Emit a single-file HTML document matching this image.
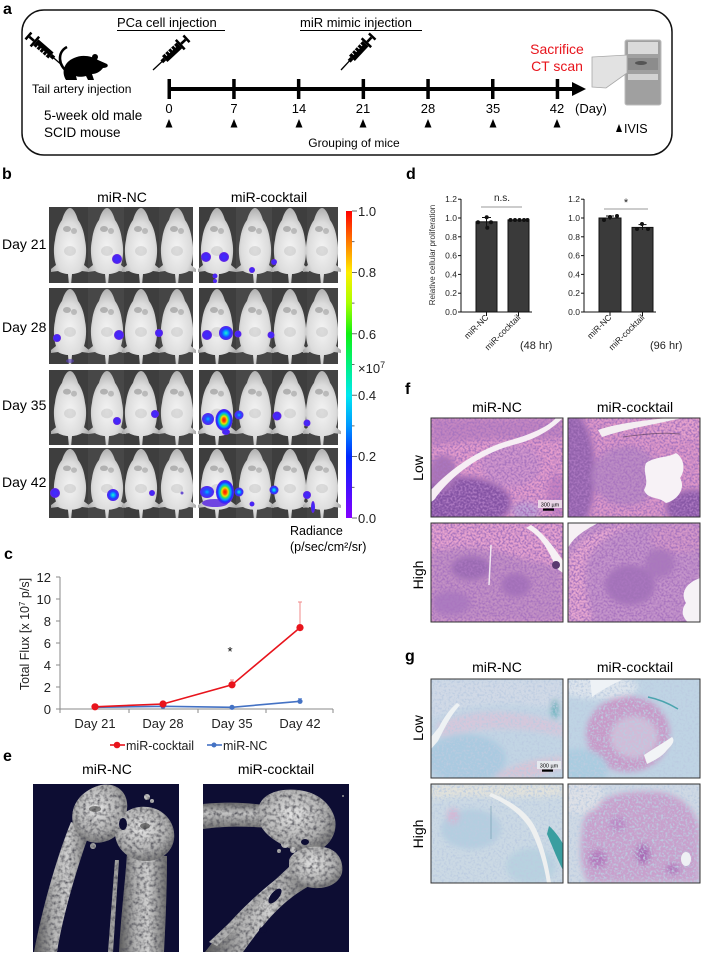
<!DOCTYPE html>
<html><head><meta charset="utf-8">
<style>
html,body{margin:0;padding:0;background:#fff;}
svg{display:block;font-family:"Liberation Sans",Arial,sans-serif;}
</style></head>
<body>
<svg width="703" height="955" viewBox="0 0 703 955" xmlns="http://www.w3.org/2000/svg">
<defs>
  <radialGradient id="mg" cx="50%" cy="55%" r="60%"><stop offset="0" stop-color="#f4f4f4"/><stop offset="0.6" stop-color="#dcdcdc"/><stop offset="1" stop-color="#a4a4a4"/></radialGradient>
  <radialGradient id="gP"><stop offset="0" stop-color="#3a30ff"/><stop offset="0.7" stop-color="#4a22f2"/><stop offset="1" stop-color="#6a2ae0"/></radialGradient>
  <radialGradient id="gB"><stop offset="0" stop-color="#00b8ff"/><stop offset="0.4" stop-color="#2050ff"/><stop offset="1" stop-color="#5a22ee"/></radialGradient>
  <radialGradient id="gC"><stop offset="0" stop-color="#30f0c0"/><stop offset="0.3" stop-color="#00a8ff"/><stop offset="0.6" stop-color="#2040ff"/><stop offset="1" stop-color="#5a22ee"/></radialGradient>
  <radialGradient id="gR"><stop offset="0" stop-color="#ff1000"/><stop offset="0.2" stop-color="#ff5a00"/><stop offset="0.35" stop-color="#f0e000"/><stop offset="0.5" stop-color="#30e060"/><stop offset="0.65" stop-color="#00a0ff"/><stop offset="0.82" stop-color="#2030ff"/><stop offset="1" stop-color="#5a22ee"/></radialGradient>
  <linearGradient id="cbar" x1="0" y1="0" x2="0" y2="1">
    <stop offset="0" stop-color="#ff0000"/><stop offset="0.1" stop-color="#ff7a00"/><stop offset="0.2" stop-color="#ffee00"/><stop offset="0.3" stop-color="#a8ff00"/><stop offset="0.4" stop-color="#10f010"/><stop offset="0.5" stop-color="#00f080"/><stop offset="0.6" stop-color="#00e8f0"/><stop offset="0.7" stop-color="#0098ff"/><stop offset="0.8" stop-color="#0028ff"/><stop offset="0.9" stop-color="#4410ff"/><stop offset="1" stop-color="#8400ff"/>
  </linearGradient>
  <linearGradient id="boneG" x1="0" y1="0" x2="1" y2="0"><stop offset="0" stop-color="#5a5a5a"/><stop offset="0.35" stop-color="#b4b4b4"/><stop offset="0.6" stop-color="#cfcfcf"/><stop offset="1" stop-color="#6a6a6a"/></linearGradient>
  <linearGradient id="boneG2" x1="0" y1="0" x2="0" y2="1"><stop offset="0" stop-color="#6a6a6a"/><stop offset="0.4" stop-color="#c4c4c4"/><stop offset="1" stop-color="#707070"/></linearGradient>
  <radialGradient id="headG" cx="45%" cy="40%" r="60%"><stop offset="0" stop-color="#e4e4e4"/><stop offset="0.7" stop-color="#b0b0b0"/><stop offset="1" stop-color="#7a7a7a"/></radialGradient>
  <filter id="bt" x="0" y="0" width="100%" height="100%">
    <feTurbulence type="fractalNoise" baseFrequency="0.28" numOctaves="2" seed="5" result="n"/>
    <feColorMatrix in="n" type="matrix" values="0 0 0 0 0.1  0 0 0 0 0.1  0 0 0 0 0.12  2.4 0 0 0 -0.95" result="d"/>
    <feComposite in="d" in2="SourceGraphic" operator="in" result="dd"/>
    <feMerge><feMergeNode in="SourceGraphic"/><feMergeNode in="dd"/></feMerge>
  </filter>
  <filter id="bl4" x="-30%" y="-30%" width="160%" height="160%"><feGaussianBlur stdDeviation="3"/></filter>
  <filter id="bl2" x="-30%" y="-30%" width="160%" height="160%"><feGaussianBlur stdDeviation="1.5"/></filter>
  <filter id="spF" x="0" y="0" width="100%" height="100%">
    <feTurbulence type="fractalNoise" baseFrequency="0.5" numOctaves="2" seed="7"/>
    <feColorMatrix type="matrix" values="0 0 0 0 0.4  0 0 0 0 0.18  0 0 0 0 0.52  4.2 0 0 0 -1.75"/>
  </filter>
  <filter id="spG" x="0" y="0" width="100%" height="100%">
    <feTurbulence type="fractalNoise" baseFrequency="0.45" numOctaves="2" seed="3"/>
    <feColorMatrix type="matrix" values="0 0 0 0 0.5  0 0 0 0 0.6  0 0 0 0 0.75  3 0 0 0 -1.35"/>
  </filter>
  <g id="mouse">
    <path d="M0,1 C3,1 6,6 8,13 C11,17 14,24 15,33 C17,42 16,52 14,58 L19,62 L19,65 L12,64 C9,66 4,67 2,67 L1.2,76 L-1.2,76 L-2,67 C-4,67 -9,66 -12,64 L-19,65 L-19,62 L-14,58 C-16,52 -17,42 -15,33 C-14,24 -11,17 -8,13 C-6,6 -3,1 0,1 Z" fill="url(#mg)"/>
    <ellipse cx="-3" cy="22" rx="4" ry="3" fill="#8a8a8a" opacity="0.55"/>
    <ellipse cx="4" cy="24" rx="3" ry="3" fill="#8a8a8a" opacity="0.45"/>
    <ellipse cx="0" cy="44" rx="6" ry="5" fill="#b0b0b0" opacity="0.35"/>
  </g>
  <g id="syr">
    <line x1="0" y1="0" x2="13" y2="0" stroke="#000" stroke-width="1.3"/>
    <rect x="12" y="-2" width="4" height="4" fill="#000"/>
    <rect x="16" y="-4" width="20" height="8" fill="#000"/>
    <path d="M20,-4 v3 M24,-4 v3 M28,-4 v3 M32,-4 v3" stroke="#fff" stroke-width="1"/>
    <rect x="36" y="-6.5" width="2.5" height="13" fill="#000"/>
    <rect x="38.5" y="-1.3" width="6" height="2.6" fill="#000"/>
    <rect x="44.5" y="-4.5" width="2.5" height="9" fill="#000"/>
  </g>
  <clipPath id="cpH"><rect x="0" y="0" width="132" height="99"/></clipPath>
  <clipPath id="cpL"><rect x="0" y="0" width="146" height="168"/></clipPath>
</defs>

<!-- ============ PANEL A ============ -->
<text x="3" y="14" font-size="16" font-weight="bold">a</text>
<rect x="22" y="10" width="650" height="145" rx="22" ry="22" fill="none" stroke="#111" stroke-width="1.5"/>
<text x="117" y="27" font-size="13">PCa cell injection</text>
<line x1="117" y1="30.5" x2="225" y2="30.5" stroke="#000" stroke-width="1"/>
<text x="300" y="27" font-size="13">miR mimic injection</text>
<line x1="300" y1="30.5" x2="422" y2="30.5" stroke="#000" stroke-width="1"/>
<use href="#syr" transform="translate(63,66) rotate(-139)"/>
<use href="#syr" transform="translate(153,70) rotate(-43)"/>
<use href="#syr" transform="translate(341,70) rotate(-47)"/>
<path d="M68,72 C58,66 57,52 67,47" stroke="#000" stroke-width="2.6" fill="none"/>
<path d="M66,80 C61,72 64,62 74,58 C82,54 92,56 98,60 L107,64 C109,66 107,68 103,68 C100,72 96,74 92,74 L94,80 L88,80 L86,76 C82,77 78,77 76,76 L77,80 Z" fill="#000"/>
<circle cx="95" cy="57" r="3" fill="#000"/>
<text x="32" y="93" font-size="12">Tail artery injection</text>
<text x="44" y="120" font-size="13.5">5-week old male</text>
<text x="44" y="137" font-size="13.5">SCID mouse</text>
<rect x="169" y="87" width="405" height="4" fill="#000"/>
<polygon points="572,82 586,89 572,96" fill="#000"/>
<g fill="#000">
  <rect x="167.5" y="79" width="3.5" height="20"/>
  <rect x="232.2" y="79" width="3.5" height="20"/>
  <rect x="296.9" y="79" width="3.5" height="20"/>
  <rect x="361.6" y="79" width="3.5" height="20"/>
  <rect x="426.3" y="79" width="3.5" height="20"/>
  <rect x="491" y="79" width="3.5" height="20"/>
  <rect x="555.7" y="79" width="3.5" height="20"/>
</g>
<g font-size="13" text-anchor="middle">
  <text x="169" y="113">0</text><text x="234" y="113">7</text><text x="299" y="113">14</text><text x="363" y="113">21</text><text x="428" y="113">28</text><text x="493" y="113">35</text><text x="557" y="113">42</text>
</g>
<g fill="#000">
  <polygon points="165.5,127.5 172.5,127.5 169,119"/>
  <polygon points="230.5,127.5 237.5,127.5 234,119"/>
  <polygon points="295.5,127.5 302.5,127.5 299,119"/>
  <polygon points="359.5,127.5 366.5,127.5 363,119"/>
  <polygon points="424.5,127.5 431.5,127.5 428,119"/>
  <polygon points="489.5,127.5 496.5,127.5 493,119"/>
  <polygon points="553.5,127.5 560.5,127.5 557,119"/>
</g>
<text x="575" y="113" font-size="13">(Day)</text>
<text x="354" y="147" font-size="12" text-anchor="middle">Grouping of mice</text>
<text x="557" y="54" font-size="14" fill="#e8141c" text-anchor="middle">Sacrifice</text>
<text x="557" y="71" font-size="14" fill="#e8141c" text-anchor="middle">CT scan</text>
<rect x="625" y="40" width="36" height="65" rx="2" fill="#a0a0a0" stroke="#bdbdbd"/>
<rect x="628" y="42" width="30" height="12" fill="#dadada"/>
<rect x="628" y="74" width="30" height="6" fill="#d2d2d2"/>
<rect x="628" y="58" width="30" height="12" fill="#8c8c8c"/>
<polygon points="592,57 627,55 627,73 606,88 592,87" fill="#e2e2e2" stroke="#a8a8a8" stroke-width="0.8"/>
<ellipse cx="641" cy="63" rx="6" ry="2" fill="#555"/>
<polygon points="616,132 622,132 619,124" fill="#000"/>
<text x="624" y="133" font-size="12.5">IVIS</text>

<!-- ============ PANEL B ============ -->
<text x="2" y="179" font-size="16" font-weight="bold">b</text>
<text x="122" y="202" font-size="14" text-anchor="middle">miR-NC</text>
<text x="269" y="202" font-size="14" text-anchor="middle">miR-cocktail</text>
<g font-size="14">
  <text x="2" y="249">Day 21</text>
  <text x="2" y="332">Day 28</text>
  <text x="2" y="410">Day 35</text>
  <text x="2" y="487">Day 42</text>
</g>
<g>
  <rect x="49" y="207" width="144" height="76" fill="#3e3e3e"/>
  <rect x="88" y="207" width="36" height="76" fill="#474747"/><rect x="159" y="207" width="34" height="76" fill="#454545"/>
  <rect x="199" y="207" width="139" height="76" fill="#3e3e3e"/>
  <rect x="236" y="207" width="36" height="76" fill="#484848"/><rect x="307" y="207" width="31" height="76" fill="#444"/>
  <rect x="49" y="288" width="144" height="76" fill="#3e3e3e"/>
  <rect x="88" y="288" width="36" height="76" fill="#474747"/><rect x="159" y="288" width="34" height="76" fill="#454545"/>
  <rect x="199" y="288" width="139" height="76" fill="#3e3e3e"/>
  <rect x="236" y="288" width="36" height="76" fill="#484848"/><rect x="307" y="288" width="31" height="76" fill="#444"/>
  <rect x="49" y="370" width="144" height="75" fill="#3e3e3e"/>
  <rect x="88" y="370" width="36" height="75" fill="#474747"/><rect x="159" y="370" width="34" height="75" fill="#454545"/>
  <rect x="199" y="370" width="139" height="75" fill="#3e3e3e"/>
  <rect x="236" y="370" width="36" height="75" fill="#484848"/><rect x="307" y="370" width="31" height="75" fill="#444"/>
  <rect x="49" y="448" width="144" height="70" fill="#3e3e3e"/>
  <rect x="88" y="448" width="36" height="70" fill="#474747"/><rect x="159" y="448" width="34" height="70" fill="#454545"/>
  <rect x="199" y="448" width="139" height="70" fill="#3e3e3e"/>
  <rect x="236" y="448" width="36" height="70" fill="#484848"/><rect x="307" y="448" width="31" height="70" fill="#444"/>
</g>
<g>
  <use href="#mouse" transform="translate(70,207)"/><use href="#mouse" transform="translate(107,207)"/><use href="#mouse" transform="translate(141,207)"/><use href="#mouse" transform="translate(177,207)"/>
  <use href="#mouse" transform="translate(217,207)"/><use href="#mouse" transform="translate(255,207)"/><use href="#mouse" transform="translate(290,207)"/><use href="#mouse" transform="translate(322,207)"/>
  <use href="#mouse" transform="translate(70,288)"/><use href="#mouse" transform="translate(107,288)"/><use href="#mouse" transform="translate(141,288)"/><use href="#mouse" transform="translate(177,288)"/>
  <use href="#mouse" transform="translate(217,288)"/><use href="#mouse" transform="translate(255,288)"/><use href="#mouse" transform="translate(290,288)"/><use href="#mouse" transform="translate(322,288)"/>
  <use href="#mouse" transform="translate(70,370) scale(1,0.987)"/><use href="#mouse" transform="translate(107,370) scale(1,0.987)"/><use href="#mouse" transform="translate(141,370) scale(1,0.987)"/><use href="#mouse" transform="translate(177,370) scale(1,0.987)"/>
  <use href="#mouse" transform="translate(217,370) scale(1,0.987)"/><use href="#mouse" transform="translate(255,370) scale(1,0.987)"/><use href="#mouse" transform="translate(290,370) scale(1,0.987)"/><use href="#mouse" transform="translate(322,370) scale(1,0.987)"/>
  <use href="#mouse" transform="translate(70,448) scale(1,0.921)"/><use href="#mouse" transform="translate(107,448) scale(1,0.921)"/><use href="#mouse" transform="translate(141,448) scale(1,0.921)"/><use href="#mouse" transform="translate(177,448) scale(1,0.921)"/>
  <use href="#mouse" transform="translate(217,448) scale(1,0.921)"/><use href="#mouse" transform="translate(255,448) scale(1,0.921)"/><use href="#mouse" transform="translate(290,448) scale(1,0.921)"/><use href="#mouse" transform="translate(322,448) scale(1,0.921)"/>
</g>
<g>
  <circle cx="117" cy="259" r="5" fill="url(#gP)"/>
  <circle cx="206" cy="257" r="5" fill="url(#gP)"/><circle cx="224" cy="257" r="5" fill="url(#gP)"/>
  <circle cx="215" cy="276" r="2.5" fill="url(#gP)"/><circle cx="215" cy="281" r="2" fill="url(#gP)"/>
  <circle cx="252" cy="270" r="3" fill="url(#gP)"/><circle cx="274" cy="262" r="3" fill="url(#gP)"/>
  <circle cx="57" cy="338" r="4" fill="url(#gP)"/><circle cx="119" cy="335" r="5" fill="url(#gP)"/><circle cx="159" cy="333" r="4" fill="url(#gP)"/>
  <ellipse cx="70" cy="361" rx="4" ry="2" fill="#5a40c0" opacity="0.6"/>
  <circle cx="207" cy="335" r="5" fill="url(#gP)"/><circle cx="226" cy="333" r="7" fill="url(#gC)"/>
  <circle cx="238" cy="334" r="3.5" fill="url(#gP)"/><circle cx="271" cy="335" r="3.5" fill="url(#gP)"/>
  <circle cx="117" cy="421" r="4" fill="url(#gP)"/><circle cx="155" cy="414" r="4" fill="url(#gP)"/>
  <circle cx="208" cy="419" r="6" fill="url(#gB)"/>
  <ellipse cx="224" cy="420" rx="8.5" ry="11" fill="url(#gR)"/>
  <ellipse cx="226" cy="432" rx="4" ry="3" fill="url(#gP)"/>
  <circle cx="239" cy="415" r="4.5" fill="url(#gB)"/><circle cx="277" cy="416" r="4.5" fill="url(#gP)"/><circle cx="307" cy="423" r="3.5" fill="url(#gP)"/>
  <circle cx="55" cy="493" r="5" fill="url(#gP)"/><circle cx="113" cy="495" r="6" fill="url(#gC)"/>
  <circle cx="152" cy="493" r="3" fill="url(#gP)"/><circle cx="182" cy="493" r="1.5" fill="#6a50d0"/>
  <ellipse cx="215" cy="503" rx="13" ry="4" fill="#5a28e0" opacity="0.85"/>
  <ellipse cx="207" cy="492" rx="7" ry="6" fill="url(#gB)"/>
  <ellipse cx="225" cy="492" rx="9" ry="12" fill="url(#gR)"/>
  <circle cx="239" cy="492" r="4.5" fill="url(#gC)"/><circle cx="274" cy="490" r="4.5" fill="url(#gC)"/>
  <circle cx="252" cy="504" r="2.5" fill="url(#gP)"/>
  <circle cx="307" cy="495" r="4" fill="url(#gP)"/><ellipse cx="313" cy="507" rx="2" ry="6" fill="url(#gP)"/>
</g>
<rect x="346" y="211" width="6" height="307" fill="url(#cbar)"/>
<g stroke="#444" stroke-width="0.8">
  <line x1="352" y1="211" x2="357" y2="211"/><line x1="352" y1="272.4" x2="357" y2="272.4"/><line x1="352" y1="333.8" x2="357" y2="333.8"/><line x1="352" y1="395.2" x2="357" y2="395.2"/><line x1="352" y1="456.6" x2="357" y2="456.6"/><line x1="352" y1="518" x2="357" y2="518"/>
  <line x1="352" y1="241.7" x2="354.5" y2="241.7"/><line x1="352" y1="303.1" x2="354.5" y2="303.1"/><line x1="352" y1="364.5" x2="354.5" y2="364.5"/><line x1="352" y1="425.9" x2="354.5" y2="425.9"/><line x1="352" y1="487.3" x2="354.5" y2="487.3"/>
</g>
<g font-size="13" fill="#222">
  <text x="358" y="216">1.0</text><text x="358" y="277">0.8</text><text x="358" y="339">0.6</text><text x="358" y="400">0.4</text><text x="358" y="461">0.2</text><text x="358" y="523">0.0</text>
  <text x="358" y="373">×10<tspan font-size="9" dy="-5">7</tspan></text>
</g>
<text x="290" y="535" font-size="12.5">Radiance</text>
<text x="290" y="551" font-size="12.5">(p/sec/cm²/sr)</text>

<!-- ============ PANEL C ============ -->
<text x="4" y="559" font-size="16" font-weight="bold">c</text>
<text transform="translate(29,634) rotate(-90)" font-size="12.5" text-anchor="middle" fill="#222">Total Flux [x 10<tspan font-size="8" dy="-4">7</tspan><tspan dy="4"> p/s]</tspan></text>
<g stroke="#8a8a8a" stroke-width="1">
  <line x1="60" y1="577" x2="60" y2="709"/>
  <line x1="60" y1="709" x2="333" y2="709"/>
  <line x1="56" y1="577" x2="60" y2="577"/><line x1="56" y1="599" x2="60" y2="599"/><line x1="56" y1="621" x2="60" y2="621"/><line x1="56" y1="643" x2="60" y2="643"/><line x1="56" y1="665" x2="60" y2="665"/><line x1="56" y1="687" x2="60" y2="687"/><line x1="56" y1="709" x2="60" y2="709"/>
  <line x1="60" y1="709" x2="60" y2="713"/><line x1="129" y1="709" x2="129" y2="713"/><line x1="198" y1="709" x2="198" y2="713"/><line x1="266" y1="709" x2="266" y2="713"/><line x1="333" y1="709" x2="333" y2="713"/>
</g>
<g font-size="13" text-anchor="end" fill="#222">
  <text x="51" y="582">12</text><text x="51" y="604">10</text><text x="51" y="626">8</text><text x="51" y="648">6</text><text x="51" y="670">4</text><text x="51" y="692">2</text><text x="51" y="714">0</text>
</g>
<g font-size="13" text-anchor="middle" fill="#222">
  <text x="95" y="728">Day 21</text><text x="163" y="728">Day 28</text><text x="232" y="728">Day 35</text><text x="300" y="728">Day 42</text>
</g>
<g stroke="#f08a8a" stroke-width="1">
  <line x1="300" y1="602" x2="300" y2="627"/><line x1="298" y1="602" x2="302" y2="602"/>
  <line x1="232" y1="680" x2="232" y2="685"/><line x1="230" y1="680" x2="234" y2="680"/>
</g>
<g stroke="#8aa8dd" stroke-width="1">
  <line x1="300" y1="698.5" x2="300" y2="701"/><line x1="298" y1="698.5" x2="302" y2="698.5"/>
</g>
<polyline points="95,707.3 163,706.3 232,707.3 300,701.3" fill="none" stroke="#4472c4" stroke-width="1.6"/>
<g fill="#4472c4"><circle cx="95" cy="707.3" r="2.6"/><circle cx="163" cy="706.3" r="2.6"/><circle cx="232" cy="707.3" r="2.6"/><circle cx="300" cy="701.3" r="2.6"/></g>
<polyline points="95,706.8 163,704 232,684.8 300,627.6" fill="none" stroke="#e8141c" stroke-width="1.6"/>
<g fill="#e8141c"><circle cx="95" cy="706.8" r="3.6"/><circle cx="163" cy="704" r="3.6"/><circle cx="232" cy="684.8" r="3.6"/><circle cx="300" cy="627.6" r="3.6"/></g>
<text x="230" y="656" font-size="13" text-anchor="middle">*</text>
<line x1="110" y1="745" x2="125" y2="745" stroke="#e8141c" stroke-width="1.6"/><circle cx="117" cy="745" r="3.3" fill="#e8141c"/>
<text x="126" y="750" font-size="12.5" fill="#222">miR-cocktail</text>
<line x1="207" y1="745" x2="222" y2="745" stroke="#4472c4" stroke-width="1.6"/><circle cx="214" cy="745" r="2.5" fill="#4472c4"/>
<text x="223" y="750" font-size="12.5" fill="#222">miR-NC</text>

<!-- ============ PANEL E ============ -->
<text x="3" y="761" font-size="16" font-weight="bold">e</text>
<text x="107" y="774" font-size="14" text-anchor="middle">miR-NC</text>
<text x="276" y="774" font-size="14" text-anchor="middle">miR-cocktail</text>
<g transform="translate(33,784)">
  <rect width="146" height="168" fill="#0d0d33"/>
  <g clip-path="url(#cpL)">
    <g filter="url(#bt)">
      <path d="M1,168 L24,168 C30,130 45,80 58,45 L38,38 C25,70 10,120 1,168 Z" fill="url(#boneG)"/>
      <path d="M86,168 L131,168 C133,130 134,100 134,72 L94,70 C92,100 88,130 86,168 Z" fill="url(#boneG)"/>
      <path d="M75,168 L80,168 L86,76 L82,76 Z" fill="#a0a0a0"/>
      <path d="M40,40 C36,22 48,6 68,1 C85,-2 96,10 94,25 C93,40 86,55 70,58 C58,61 44,55 40,40 Z" fill="url(#headG)"/>
      <path d="M82,46 C84,30 99,21 115,23 C132,25 143,40 141,55 C139,70 125,78 110,77 C94,75 81,63 82,46 Z" fill="url(#headG)"/>
      <circle cx="114" cy="13" r="3" fill="#c8c8c8"/><circle cx="119" cy="17" r="2" fill="#b8b8b8"/>
      <circle cx="60" cy="62" r="3" fill="#a8a8a8"/>
    </g>
    <ellipse cx="90" cy="40" rx="4" ry="6" fill="#0d0d33"/>
    <ellipse cx="112" cy="42" rx="5" ry="3" fill="#444" opacity="0.7"/>
    <ellipse cx="62" cy="25" rx="6" ry="3" fill="#444" opacity="0.6"/>
  </g>
</g>
<g transform="translate(203,784)">
  <rect width="146" height="168" fill="#0d0d33"/>
  <g clip-path="url(#cpL)">
    <g filter="url(#bt)">
      <path d="M0,20 C20,18 45,18 65,22 L65,44 C45,42 20,42 0,45 Z" fill="url(#boneG2)"/>
      <path d="M55,25 C58,10 75,4 95,6 C115,8 128,20 132,35 C135,50 125,65 110,68 C95,70 80,62 70,55 C60,48 53,38 55,25 Z" fill="url(#headG)"/>
      <path d="M2,168 L40,168 C60,140 80,115 110,100 L95,80 C70,95 35,125 2,168 Z" fill="url(#boneG)"/>
      <path d="M6,158 L14,162 L92,86 L87,82 Z" fill="#b0b0b0"/>
      <path d="M86,76 C90,66 104,61 120,63 C134,65 141,76 139,89 C136,99 125,105 111,104 C99,103 88,96 86,86 Z" fill="url(#headG)"/>
      <circle cx="82" cy="60" r="4" fill="#bcbcbc"/><circle cx="90" cy="66" r="3" fill="#c4c4c4"/><circle cx="96" cy="58" r="2.5" fill="#aaa"/><circle cx="76" cy="67" r="2" fill="#aaa"/>
      <circle cx="140" cy="12" r="1" fill="#999"/>
    </g>
    <ellipse cx="72" cy="112" rx="4" ry="9" transform="rotate(40 72 112)" fill="#0d0d33"/>
    <ellipse cx="60" cy="146" rx="4" ry="3" fill="#0d0d33"/>
    <ellipse cx="102" cy="58" rx="4" ry="3" fill="#0d0d33"/>
  </g>
</g>

<!-- ============ PANEL D ============ -->
<text x="406" y="179" font-size="16" font-weight="bold">d</text>
<text transform="translate(435,255) rotate(-90)" font-size="8" text-anchor="middle" fill="#333">Relative cellular proliferation</text>
<g stroke="#111" stroke-width="1">
  <line x1="461" y1="199" x2="461" y2="312"/><line x1="461" y1="312" x2="532" y2="312"/>
  <line x1="458" y1="199.2" x2="461" y2="199.2"/><line x1="458" y1="218" x2="461" y2="218"/><line x1="458" y1="236.8" x2="461" y2="236.8"/><line x1="458" y1="255.6" x2="461" y2="255.6"/><line x1="458" y1="274.4" x2="461" y2="274.4"/><line x1="458" y1="293.2" x2="461" y2="293.2"/><line x1="458" y1="312" x2="461" y2="312"/>
  <line x1="486.5" y1="312" x2="486.5" y2="316"/><line x1="518.5" y1="312" x2="518.5" y2="316"/>
</g>
<g font-size="8.5" text-anchor="end" fill="#222">
  <text x="457" y="202">1.2</text><text x="457" y="221">1.0</text><text x="457" y="240">0.8</text><text x="457" y="258.6">0.6</text><text x="457" y="277.4">0.4</text><text x="457" y="296.2">0.2</text><text x="457" y="315">0.0</text>
</g>
<rect x="476" y="221.8" width="21" height="90.2" fill="#3a3a3a" stroke="#111"/>
<rect x="508" y="219.9" width="21" height="92.1" fill="#3a3a3a" stroke="#111"/>
<g stroke="#111" stroke-width="1"><line x1="486.5" y1="217.5" x2="486.5" y2="226"/><line x1="482" y1="217.5" x2="491" y2="217.5"/></g>
<g fill="#111"><circle cx="478" cy="222.3" r="2"/><circle cx="486.7" cy="217.3" r="2"/><circle cx="487.3" cy="227.7" r="2"/><circle cx="491" cy="222.3" r="2"/>
<circle cx="510.5" cy="220" r="2"/><circle cx="515" cy="220" r="2"/><circle cx="519.5" cy="220" r="2"/><circle cx="524" cy="220" r="2"/><circle cx="527.5" cy="220" r="2"/></g>
<line x1="481" y1="207" x2="522" y2="207" stroke="#999" stroke-width="1"/>
<text x="502" y="201" font-size="10" text-anchor="middle" fill="#222">n.s.</text>
<g font-size="8.5" fill="#222" text-anchor="end">
  <text transform="translate(489,318) rotate(-45)">miR-NC</text>
  <text transform="translate(521,318) rotate(-45)">miR-cocktail</text>
</g>
<text x="520" y="349" font-size="11" fill="#222">(48 hr)</text>
<g stroke="#111" stroke-width="1">
  <line x1="584" y1="199" x2="584" y2="312"/><line x1="584" y1="312" x2="656" y2="312"/>
  <line x1="581" y1="199.2" x2="584" y2="199.2"/><line x1="581" y1="218" x2="584" y2="218"/><line x1="581" y1="236.8" x2="584" y2="236.8"/><line x1="581" y1="255.6" x2="584" y2="255.6"/><line x1="581" y1="274.4" x2="584" y2="274.4"/><line x1="581" y1="293.2" x2="584" y2="293.2"/><line x1="581" y1="312" x2="584" y2="312"/>
  <line x1="610" y1="312" x2="610" y2="316"/><line x1="642.5" y1="312" x2="642.5" y2="316"/>
</g>
<g font-size="8.5" text-anchor="end" fill="#222">
  <text x="580" y="202">1.2</text><text x="580" y="221">1.0</text><text x="580" y="240">0.8</text><text x="580" y="258.6">0.6</text><text x="580" y="277.4">0.4</text><text x="580" y="296.2">0.2</text><text x="580" y="315">0.0</text>
</g>
<rect x="599" y="218" width="22" height="94" fill="#3a3a3a" stroke="#111"/>
<rect x="632" y="227.4" width="21" height="84.6" fill="#3a3a3a" stroke="#111"/>
<g stroke="#111" stroke-width="1"><line x1="610" y1="216" x2="610" y2="220"/><line x1="606" y1="216" x2="614" y2="216"/><line x1="642.5" y1="224.6" x2="642.5" y2="230"/><line x1="638.5" y1="224.6" x2="646.5" y2="224.6"/></g>
<g fill="#111"><circle cx="604" cy="220" r="2"/><circle cx="610" cy="217" r="2"/><circle cx="617" cy="216" r="2"/>
<circle cx="637" cy="229" r="2"/><circle cx="642" cy="224" r="2"/><circle cx="648" cy="229" r="2"/></g>
<line x1="604" y1="209" x2="648" y2="209" stroke="#999" stroke-width="1"/>
<text x="626" y="206" font-size="11" text-anchor="middle" fill="#222">*</text>
<g font-size="8.5" fill="#222" text-anchor="end">
  <text transform="translate(612,318) rotate(-45)">miR-NC</text>
  <text transform="translate(645,318) rotate(-45)">miR-cocktail</text>
</g>
<text x="650" y="349" font-size="11" fill="#222">(96 hr)</text>

<!-- ============ PANEL F ============ -->
<text x="405" y="394" font-size="16" font-weight="bold">f</text>
<text x="497" y="412" font-size="14" text-anchor="middle">miR-NC</text>
<text x="635" y="412" font-size="14" text-anchor="middle">miR-cocktail</text>
<text transform="translate(423,468) rotate(-90)" font-size="14" text-anchor="middle">Low</text>
<text transform="translate(423,575) rotate(-90)" font-size="14" text-anchor="middle">High</text>
<g transform="translate(431,418)">
  <g clip-path="url(#cpH)">
    <rect width="132" height="99" fill="#e49ccb"/>
    <g filter="url(#bl4)">
      <path d="M0,0 H132 V20 C100,24 60,18 0,28 Z" fill="#c285c0"/>
      <ellipse cx="30" cy="85" rx="50" ry="26" fill="#8452a4"/>
      <ellipse cx="12" cy="55" rx="14" ry="18" fill="#a872b4"/>
      <ellipse cx="80" cy="47" rx="30" ry="22" fill="#d096cc"/>
      <ellipse cx="95" cy="93" rx="14" ry="9" fill="#c0a6d8"/>
      <ellipse cx="126" cy="78" rx="10" ry="22" fill="#c882c0"/>
    </g>
    <rect width="132" height="99" filter="url(#spF)"/>
    <path d="M0,72 C20,50 50,30 80,22 C100,16 115,10 125,0 L132,0 C118,14 102,22 82,27 C52,35 22,55 3,82 L0,84 Z" fill="#f6eef4"/>
    <rect x="107" y="82" width="24" height="8" fill="#f2e6ee" opacity="0.85"/>
    <text x="119" y="88.5" font-size="5.5" text-anchor="middle">300 µm</text>
    <rect x="112" y="90.5" width="11" height="2.2" fill="#000"/>
  </g>
  <rect width="132" height="99" fill="none" stroke="#333" stroke-width="1"/>
</g>
<g transform="translate(568,418)">
  <g clip-path="url(#cpH)">
    <rect width="132" height="99" fill="#de98c8"/>
    <g filter="url(#bl4)">
      <ellipse cx="3" cy="55" rx="24" ry="60" fill="#9262ac"/>
      <ellipse cx="126" cy="90" rx="28" ry="18" fill="#8858a6"/>
      <ellipse cx="58" cy="58" rx="34" ry="30" fill="#bc8cc4"/>
      <ellipse cx="110" cy="10" rx="30" ry="12" fill="#e6a2cc"/>
    </g>
    <rect width="132" height="99" filter="url(#spF)"/>
    <path d="M78,45 C88,38 100,40 108,35 C116,40 118,52 112,60 C118,70 110,82 98,85 C90,78 80,82 76,72 C82,62 74,55 78,45 Z" fill="#f7f2f6"/>
    <path d="M30,12 C50,5 80,2 100,0 L114,0 C90,6 60,10 34,19 Z" fill="#f4eef2"/>
    <path d="M55,19 C75,16 95,14 112,16" stroke="#3a2a40" stroke-width="1" fill="none" opacity="0.5"/>
  </g>
  <rect width="132" height="99" fill="none" stroke="#333" stroke-width="1"/>
</g>
<g transform="translate(431,523)">
  <g clip-path="url(#cpH)">
    <rect width="132" height="99" fill="#e6a2ce"/>
    <g filter="url(#bl4)">
      <path d="M0,30 C30,20 60,25 90,35 L132,45 V99 H0 Z" fill="#c290c4"/>
      <ellipse cx="40" cy="45" rx="20" ry="12" fill="#9a6ab2"/>
      <ellipse cx="85" cy="62" rx="15" ry="12" fill="#a270b8"/>
      <ellipse cx="20" cy="80" rx="20" ry="12" fill="#ac7cc0"/>
    </g>
    <rect width="132" height="99" filter="url(#spF)"/>
    <path d="M95,5 C105,10 115,20 125,45 L132,50 L132,38 C122,22 110,8 100,2 Z" fill="#f6f0f4"/>
    <circle cx="125" cy="42" r="4" fill="#5a3a70"/>
    <path d="M60,22 L58,62" stroke="#f0e6f0" stroke-width="1.5"/>
  </g>
  <rect width="132" height="99" fill="none" stroke="#333" stroke-width="1"/>
</g>
<g transform="translate(568,523)">
  <g clip-path="url(#cpH)">
    <rect width="132" height="99" fill="#c494ca"/>
    <g filter="url(#bl4)">
      <path d="M0,35 C10,15 30,5 60,0 L75,0 C45,8 25,20 18,40 C15,60 20,80 25,99 L0,99 Z" fill="#e8a8d0"/>
      <ellipse cx="112" cy="15" rx="30" ry="15" fill="#d498c8"/>
      <ellipse cx="62" cy="62" rx="25" ry="20" fill="#a272b8"/>
      <ellipse cx="92" cy="40" rx="15" ry="15" fill="#aa7abc"/>
    </g>
    <rect width="132" height="99" filter="url(#spF)"/>
    <path d="M0,0 H30 C15,8 5,15 0,25 Z" fill="#f6f0f4"/>
    <path d="M132,55 C118,60 112,70 118,80 C112,88 115,95 120,99 H132 Z" fill="#f6f2f6"/>
  </g>
  <rect width="132" height="99" fill="none" stroke="#333" stroke-width="1"/>
</g>

<!-- ============ PANEL G ============ -->
<text x="405" y="661" font-size="16" font-weight="bold">g</text>
<text x="497" y="672" font-size="14" text-anchor="middle">miR-NC</text>
<text x="635" y="672" font-size="14" text-anchor="middle">miR-cocktail</text>
<text transform="translate(423,728) rotate(-90)" font-size="14" text-anchor="middle">Low</text>
<text transform="translate(423,834) rotate(-90)" font-size="14" text-anchor="middle">High</text>
<g transform="translate(431,679)">
  <g clip-path="url(#cpH)">
    <rect width="132" height="99" fill="#c2d5e4"/>
    <g filter="url(#bl4)">
      <path d="M0,0 H132 V30 C90,25 50,20 0,40 Z" fill="#d0d9e6"/>
      <path d="M5,45 C40,30 80,28 132,45 V58 C90,46 50,48 10,58 Z" fill="#d6c8dc"/>
      <path d="M60,99 C80,85 110,78 132,78 V90 L100,99 Z" fill="#d8c4d6"/>
      <ellipse cx="35" cy="80" rx="40" ry="25" fill="#aacae0"/>
      <ellipse cx="124" cy="30" rx="4" ry="10" fill="#6ab0bc"/>
    </g>
    <rect width="132" height="99" filter="url(#spG)"/>
    <path d="M0,58 L8,48 C13,38 19,30 26,24 L29,26 C20,36 14,48 7,62 L0,70 Z" fill="#eef2f4"/>
    <rect x="106" y="82" width="24" height="8" fill="#eaeef2" opacity="0.85"/>
    <text x="118" y="88.5" font-size="5.5" text-anchor="middle">300 µm</text>
    <rect x="111" y="90.5" width="11" height="2.2" fill="#000"/>
  </g>
  <rect width="132" height="99" fill="none" stroke="#333" stroke-width="1"/>
</g>
<g transform="translate(568,679)">
  <g clip-path="url(#cpH)">
    <rect width="132" height="99" fill="#bfd4e4"/>
    <g filter="url(#bl4)">
      <ellipse cx="60" cy="55" rx="42" ry="38" fill="#c89ac8"/>
      <ellipse cx="66" cy="58" rx="24" ry="21" fill="#d0bcd8"/>
      <ellipse cx="10" cy="90" rx="30" ry="20" fill="#aacce0"/>
      <ellipse cx="30" cy="8" rx="40" ry="12" fill="#dde4ec"/>
    </g>
    <rect width="132" height="99" filter="url(#spG)"/>
    <path d="M76,76 C85,70 95,64 104,58 C108,62 103,67 99,71 C94,78 85,82 79,85 Z" fill="#f2f4f6"/>
    <path d="M22,0 H56 C43,6 32,12 24,18 Z" fill="#eef2f6"/>
    <path d="M80,18 C90,20 100,24 110,30" stroke="#4aa4ae" stroke-width="1.5" fill="none"/>
  </g>
  <rect width="132" height="99" fill="none" stroke="#333" stroke-width="1"/>
</g>
<g transform="translate(431,784)">
  <g clip-path="url(#cpH)">
    <rect width="132" height="99" fill="#cbd9e4"/>
    <g filter="url(#bl4)">
      <path d="M0,0 H132 V12 C90,15 40,10 0,15 Z" fill="#e2e2dc"/>
      <ellipse cx="40" cy="45" rx="30" ry="20" fill="#b4cee0"/>
      <ellipse cx="100" cy="82" rx="25" ry="18" fill="#b8d2e0"/>
      <ellipse cx="22" cy="32" rx="6" ry="8" fill="#d4b6d4"/>
    </g>
    <rect width="132" height="99" filter="url(#spG)"/>
    <path d="M58,12 C76,20 90,30 99,45 C107,60 113,80 116,99 H120 C117,78 111,56 103,41 C94,26 78,16 60,9 Z" fill="#eef0f0"/>
    <path d="M118,42 C124,47 130,56 132,60 V86 C127,77 122,64 116,50 Z" fill="#3a9ea0"/>
    <path d="M60,22 L60,55" stroke="#5a8aa0" stroke-width="0.8" opacity="0.6"/>
  </g>
  <rect width="132" height="99" fill="none" stroke="#333" stroke-width="1"/>
</g>
<g transform="translate(568,784)">
  <g clip-path="url(#cpH)">
    <rect width="132" height="99" fill="#cfd9e4"/>
    <g filter="url(#bl4)">
      <path d="M15,40 C20,15 50,5 90,8 C115,10 132,30 132,50 V99 H20 C10,80 12,60 15,40 Z" fill="#c8a0cc"/>
      <ellipse cx="30" cy="75" rx="9" ry="9" fill="#b478bc"/>
      <ellipse cx="75" cy="70" rx="7" ry="10" fill="#a868b4"/>
      <ellipse cx="105" cy="85" rx="7" ry="5" fill="#ae70b8"/>
      <ellipse cx="50" cy="40" rx="9" ry="7" fill="#bc88c4"/>
      <ellipse cx="10" cy="10" rx="25" ry="20" fill="#dde0e6"/>
    </g>
    <rect width="132" height="99" filter="url(#spG)"/>
    <ellipse cx="118" cy="75" rx="5" ry="7" fill="#eef0f4"/>
  </g>
  <rect width="132" height="99" fill="none" stroke="#333" stroke-width="1"/>
</g>
</svg>
</body></html>
